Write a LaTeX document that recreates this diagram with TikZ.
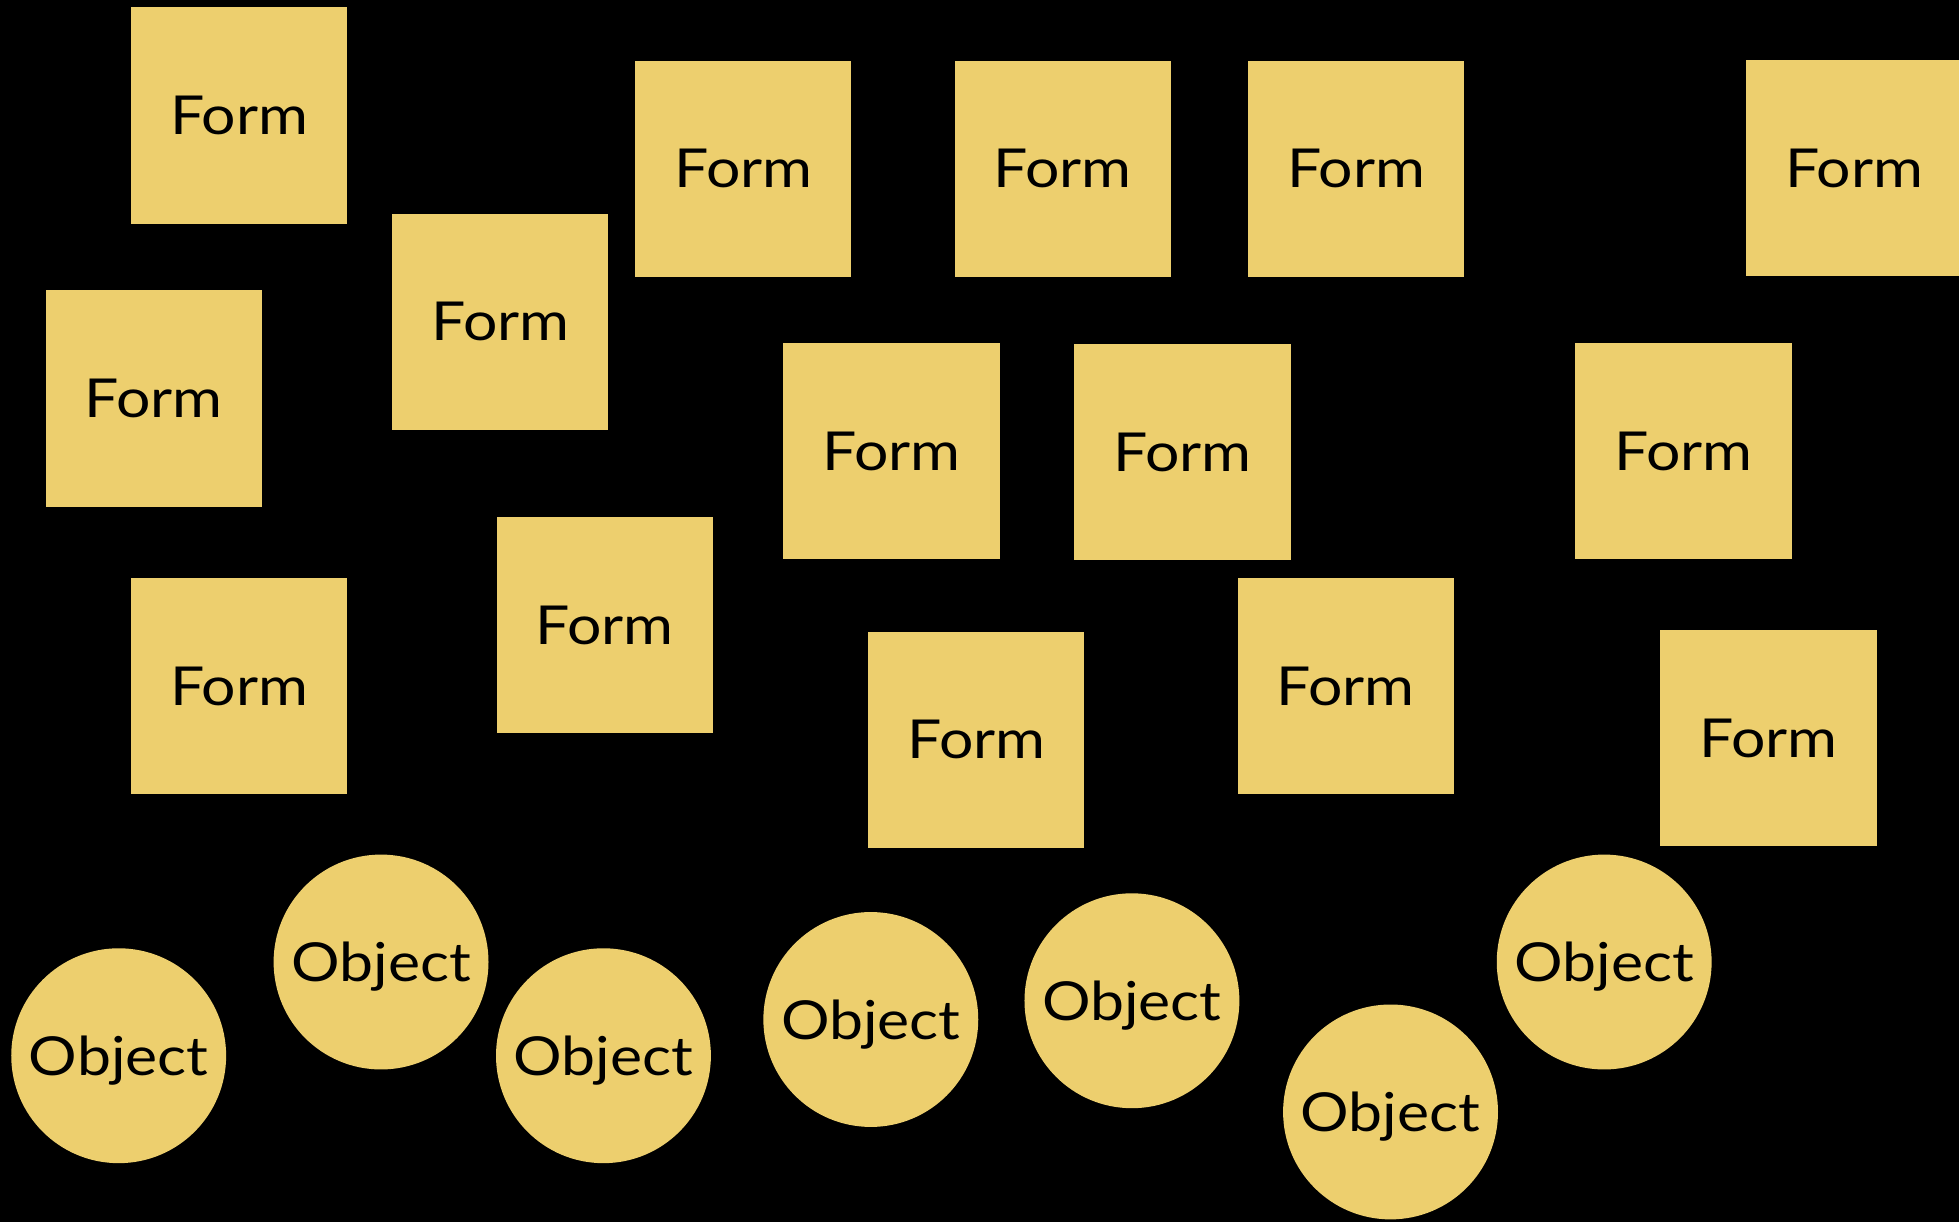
\documentclass[tikz,border=0pt]{standalone}
\usepackage{fontspec}
\setmainfont{Lato}
\definecolor{paper}{RGB}{237,207,110}
\tikzset{
  formbox/.style={draw=none, fill=paper, minimum width=173pt, minimum height=173pt, inner sep=0pt,
    text=black, text depth=0pt, font=\fontsize{43}{43}\selectfont},
  objcircle/.style={draw=none, fill=paper, circle, minimum size=172pt, inner sep=0pt,
    text=black, text depth=0pt, font=\fontsize{43}{43}\selectfont}
}
\newcommand{\wide}[1]{\scalebox{1.13}[1]{#1}}
\begin{document}
\begin{tikzpicture}[x=1pt,y=-1pt]
\useasboundingbox (0,0) rectangle (1568,977.3);
\fill[black] (-10,-10) rectangle (1580,990);
% forms
\node[formbox] (f1) at (191.5,92.5) {\wide{Form}};
\node[formbox] (f2) at (595,135) {\wide{Form}};
\node[formbox] (f3) at (850.5,135) {\wide{Form}};
\node[formbox] (f4) at (1085.5,135) {\wide{Form}};
\node[formbox] (f5) at (1484,134.5) {\wide{Form}};
\node[formbox] (f6) at (123,319) {\wide{Form}};
\node[formbox] (f7) at (400.5,257.5) {\wide{Form}};
\node[formbox] (f8) at (713.5,361) {\wide{Form}};
\node[formbox] (f9) at (946.5,362) {\wide{Form}};
\node[formbox] (f10) at (1347.5,361) {\wide{Form}};
\node[formbox] (f11) at (191.5,549) {\wide{Form}};
\node[formbox] (f12) at (484,500.5) {\wide{Form}};
\node[formbox] (f13) at (781.5,592) {\wide{Form}};
\node[formbox] (f14) at (1077,549) {\wide{Form}};
\node[formbox] (f15) at (1415.5,591) {\wide{Form}};
% objects
\node[objcircle] (o1) at (95,845) {\wide{Object}};
\node[objcircle] (o2) at (305,770) {\wide{Object}};
\node[objcircle] (o3) at (483,845) {\wide{Object}};
\node[objcircle] (o4) at (697,816) {\wide{Object}};
\node[objcircle] (o5) at (906,801) {\wide{Object}};
\node[objcircle] (o6) at (1113,890) {\wide{Object}};
\node[objcircle] (o7) at (1284,770) {\wide{Object}};
\end{tikzpicture}
\end{document}
